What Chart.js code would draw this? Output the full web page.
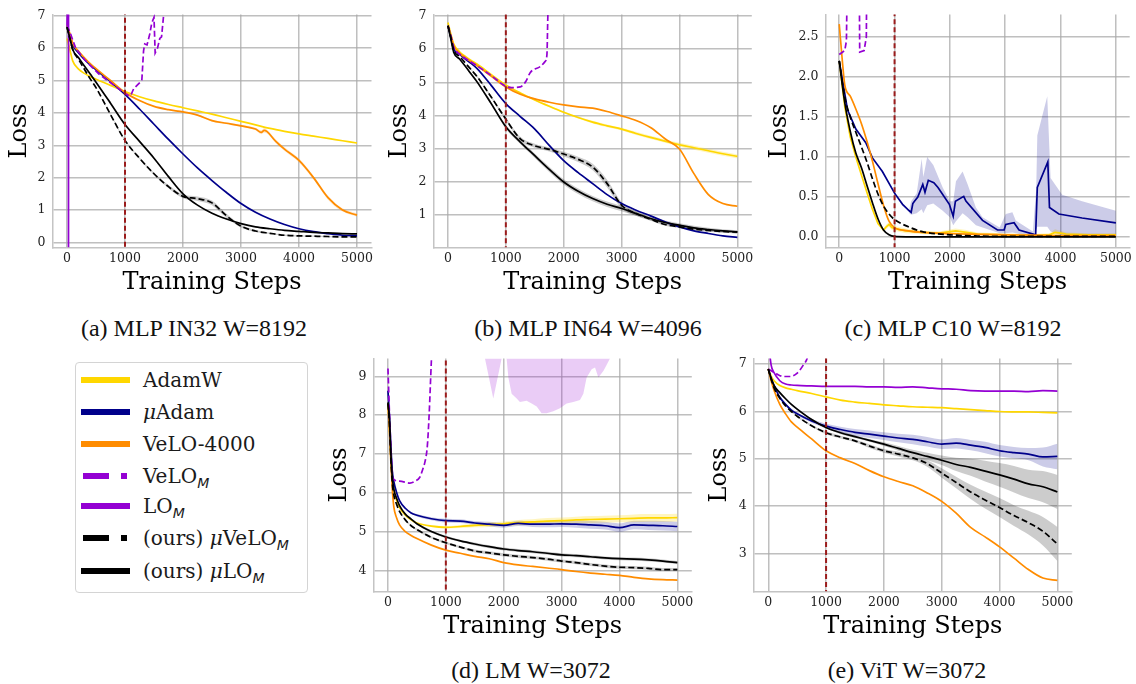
<!DOCTYPE html>
<html>
<head>
<meta charset="utf-8">
<script src="https://cdn.jsdelivr.net/npm/chart.js@4.4.1/dist/chart.umd.min.js"></script>
<style>
  body { margin: 0; background: #fff; width: 1136px; height: 684px; position: relative; overflow: hidden; }
  canvas { position: absolute; }
  .caption { position: absolute; font-family: "Liberation Serif", serif; font-size: 24px; line-height: 26px;
             color: #111; transform: translateX(-50%); white-space: nowrap; }
  #legend { position: absolute; left: 75px; top: 362px; width: 231px; height: 229px; border: 1px solid #d4d4d4;
            border-radius: 4px; background: #fff; font-family: "DejaVu Serif", serif; font-size: 20px; color: #1a1a1a; }
  #legend .item { position: absolute; left: 0; height: 26px; line-height: 26px; white-space: nowrap; }
  #legend svg { position: absolute; left: 4px; top: 7px; }
  #legend span.lbl { position: absolute; left: 67px; top: 0; }
  .sub { font-family: "DejaVu Sans", sans-serif; font-style: italic; font-size: 14px; position: relative; top: 5px; }
  .mu { font-style: italic; }
</style>
</head>
<body>
<canvas id="chartA" width="380" height="300" style="left:0;top:0"></canvas>
<canvas id="chartB" width="380" height="300" style="left:380px;top:0"></canvas>
<canvas id="chartC" width="376" height="300" style="left:760px;top:0"></canvas>
<canvas id="chartD" width="380" height="300" style="left:320px;top:344px"></canvas>
<canvas id="chartE" width="380" height="300" style="left:700px;top:344px"></canvas>

<div class="caption" style="left:194px;top:315px">(a) MLP IN32 W=8192</div>
<div class="caption" style="left:588px;top:315px">(b) MLP IN64 W=4096</div>
<div class="caption" style="left:953px;top:315px">(c) MLP C10 W=8192</div>
<div class="caption" style="left:531px;top:657px">(d) LM W=3072</div>
<div class="caption" style="left:907px;top:657px">(e) ViT W=3072</div>

<div id="legend">
  <div class="item" style="top:4px"><svg width="52" height="12"><line x1="1" y1="6" x2="50" y2="6" stroke="#FFD700" stroke-width="6"/></svg><span class="lbl">AdamW</span></div>
  <div class="item" style="top:35.7px"><svg width="52" height="12"><line x1="1" y1="6" x2="50" y2="6" stroke="#00008B" stroke-width="6"/></svg><span class="lbl"><span class="mu">μ</span>Adam</span></div>
  <div class="item" style="top:68.3px"><svg width="52" height="12"><line x1="1" y1="6" x2="50" y2="6" stroke="#FF8C00" stroke-width="6"/></svg><span class="lbl">VeLO-4000</span></div>
  <div class="item" style="top:100px"><svg width="52" height="12"><line x1="3" y1="6" x2="47" y2="6" stroke="#9400D3" stroke-width="6" stroke-dasharray="26 12"/></svg><span class="lbl">VeLO<span class="sub">M</span></span></div>
  <div class="item" style="top:130px"><svg width="52" height="12"><line x1="1" y1="6" x2="50" y2="6" stroke="#9400D3" stroke-width="6"/></svg><span class="lbl">LO<span class="sub">M</span></span></div>
  <div class="item" style="top:161.7px"><svg width="52" height="12"><line x1="3" y1="6" x2="47" y2="6" stroke="#000" stroke-width="6" stroke-dasharray="26 12"/></svg><span class="lbl">(ours) <span class="mu">μ</span>VeLO<span class="sub">M</span></span></div>
  <div class="item" style="top:195px"><svg width="52" height="12"><line x1="1" y1="6" x2="50" y2="6" stroke="#000" stroke-width="6"/></svg><span class="lbl">(ours) <span class="mu">μ</span>LO<span class="sub">M</span></span></div>
</div>

<script>
// shared step grid for the smooth curves
const STEPS = [0, 50, 100, 200, 300, 400, 500, 750, 1000, 1250, 1500, 1750, 2000, 2250, 2500, 2750, 3000, 3250, 3500, 3750, 4000, 4250, 4500, 4750, 5000];
const X_TICKS = [0, 1000, 2000, 3000, 4000, 5000];
const REF_STEP = 1000;

// (a) MLP IN32
const adamwA = [6.3, 5.95, 5.6, 5.35, 5.22, 5.12, 5.04, 4.85, 4.66, 4.5, 4.37, 4.26, 4.16, 4.06, 3.96, 3.85, 3.74, 3.63, 3.52, 3.43, 3.35, 3.28, 3.21, 3.14, 3.07];
const muAdamA = [6.7, 6.4, 6.1, 5.85, 5.65, 5.48, 5.33, 4.97, 4.57, 4.12, 3.65, 3.18, 2.73, 2.3, 1.91, 1.54, 1.2, 0.93, 0.72, 0.55, 0.42, 0.33, 0.27, 0.22, 0.2];
const veloStepsA = [0, 50, 100, 200, 300, 400, 500, 750, 1000, 1250, 1500, 1750, 2000, 2250, 2500, 2750, 3000, 3250, 3350, 3400, 3450, 3600, 3750, 4000, 4250, 4500, 4750, 5000];
const veloA = [6.7, 6.45, 6.15, 5.9, 5.7, 5.52, 5.37, 5.0, 4.63, 4.38, 4.2, 4.1, 4.03, 3.93, 3.76, 3.68, 3.6, 3.5, 3.4, 3.46, 3.42, 3.12, 2.88, 2.53, 2.0, 1.38, 1.0, 0.84];
const veloSpreadA = [0, 0, 0, 0, 0, 0, 0, 0, 0, 0, 0, 0, 0, 0.02, 0.03, 0.03, 0.03, 0.04, 0.06, 0.07, 0.06, 0.06, 0.06, 0.06, 0.06, 0.06, 0.05, 0.05];
const velomStepsA = [0, 50, 150, 300, 550, 850, 1050, 1100, 1150, 1290, 1320, 1340, 1380, 1430, 1460, 1500, 1520, 1560, 1600, 1630, 1665, 1700];
const velomA = [6.7, 6.5, 6.0, 5.65, 5.2, 4.8, 4.54, 4.54, 4.75, 5.0, 5.92, 6.13, 6.1, 6.46, 6.77, 6.95, 5.85, 6.0, 6.3, 6.35, 7.0, 7.6];
const lomStepsA = [0, 26, 26];
const lomA = [6.7, 9, -1];
const muVeloA = [6.65, 6.3, 5.95, 5.65, 5.35, 5.05, 4.78, 3.95, 3.15, 2.6, 2.12, 1.72, 1.42, 1.35, 1.22, 0.82, 0.5, 0.35, 0.28, 0.22, 0.2, 0.19, 0.18, 0.17, 0.17];
const muVeloSpreadA = [0, 0, 0, 0, 0, 0, 0, 0.02, 0.03, 0.03, 0.04, 0.05, 0.06, 0.07, 0.07, 0.06, 0.04, 0.03, 0.02, 0.02, 0.02, 0.02, 0.02, 0.02, 0.02];
const muLoA = [6.65, 6.3, 5.95, 5.7, 5.45, 5.2, 4.95, 4.3, 3.64, 3.12, 2.6, 2.03, 1.5, 1.15, 0.9, 0.72, 0.58, 0.48, 0.42, 0.37, 0.34, 0.31, 0.29, 0.27, 0.26];

// (b) MLP IN64
const adamwB = [6.8, 6.45, 6.15, 5.92, 5.78, 5.66, 5.55, 5.23, 4.92, 4.68, 4.47, 4.28, 4.1, 3.94, 3.8, 3.69, 3.59, 3.46, 3.34, 3.23, 3.12, 3.03, 2.94, 2.85, 2.77];
const adamwSpreadB = [0, 0, 0, 0, 0, 0, 0, 0, 0.02, 0.02, 0.02, 0.03, 0.03, 0.03, 0.04, 0.04, 0.04, 0.05, 0.05, 0.05, 0.06, 0.06, 0.06, 0.06, 0.06];
const muAdamB = [6.7, 6.35, 6.0, 5.85, 5.7, 5.57, 5.42, 4.9, 4.36, 3.97, 3.59, 3.1, 2.64, 2.28, 1.95, 1.62, 1.35, 1.15, 0.98, 0.8, 0.65, 0.53, 0.45, 0.38, 0.33];
const veloB = [6.7, 6.4, 6.1, 5.88, 5.74, 5.62, 5.5, 5.18, 4.86, 4.64, 4.5, 4.4, 4.32, 4.26, 4.22, 4.12, 3.99, 3.85, 3.64, 3.3, 2.99, 2.25, 1.62, 1.35, 1.27];
const velomStepsB = [0, 50, 100, 200, 500, 750, 1000, 1100, 1250, 1350, 1420, 1600, 1680, 1710, 1726, 1740];
const velomB = [6.7, 6.4, 6.05, 5.85, 5.5, 5.2, 4.88, 4.84, 4.86, 5.04, 5.29, 5.48, 5.63, 5.83, 7.0, 7.6];
const muVeloB = [6.7, 6.35, 5.97, 5.78, 5.58, 5.38, 5.18, 4.55, 3.89, 3.3, 3.09, 2.98, 2.84, 2.68, 2.45, 1.95, 1.3, 1.05, 0.88, 0.72, 0.65, 0.58, 0.54, 0.51, 0.49];
const muVeloSpreadB = [0, 0, 0, 0, 0, 0.02, 0.03, 0.04, 0.05, 0.06, 0.06, 0.06, 0.07, 0.08, 0.1, 0.12, 0.1, 0.07, 0.05, 0.04, 0.04, 0.04, 0.04, 0.04, 0.04];
const muLoB = [6.7, 6.3, 5.9, 5.7, 5.48, 5.25, 5.02, 4.35, 3.66, 3.2, 2.79, 2.38, 2.0, 1.72, 1.5, 1.33, 1.2, 1.05, 0.9, 0.78, 0.7, 0.62, 0.57, 0.53, 0.5];
const muLoSpreadB = [0, 0, 0, 0, 0.02, 0.03, 0.04, 0.05, 0.06, 0.06, 0.07, 0.08, 0.08, 0.08, 0.08, 0.08, 0.08, 0.07, 0.06, 0.06, 0.06, 0.06, 0.05, 0.05, 0.05];

// (c) MLP C10
const STEPS_C = [0, 100, 200, 300, 400, 500, 600, 700, 800, 900, 1000, 1250, 1500, 2000, 2500, 3000, 3500, 4000, 4500, 5000];
const adamwStepsC = [0, 100, 200, 300, 400, 500, 600, 700, 800, 850, 900, 950, 1000, 1200, 1500, 1800, 2100, 2200, 2300, 2500, 3000, 3500, 3800, 3900, 4000, 4100, 4500, 5000];
const adamwC = [2.2, 1.63, 1.25, 1.0, 0.78, 0.56, 0.35, 0.17, 0.09, 0.13, 0.16, 0.12, 0.11, 0.08, 0.06, 0.05, 0.08, 0.07, 0.06, 0.04, 0.03, 0.02, 0.03, 0.06, 0.05, 0.04, 0.03, 0.03];
const adamwSpreadC = [0, 0, 0, 0, 0, 0, 0, 0, 0.02, 0.03, 0.03, 0.03, 0.03, 0.03, 0.02, 0.02, 0.03, 0.03, 0.03, 0.02, 0.02, 0.02, 0.02, 0.04, 0.03, 0.02, 0.02, 0.02];
const muAdamStepsC = [0, 150, 300, 480, 600, 780, 1000, 1145, 1265, 1300, 1330, 1360, 1420, 1510, 1550, 1610, 1710, 1785, 1990, 2060, 2100, 2250, 2290, 2590, 2860, 2980, 3010, 3160, 3250, 3550, 3580, 3770, 3800, 3970, 4390, 5000];
const muAdamC = [2.2, 1.59, 1.35, 1.18, 0.99, 0.82, 0.55, 0.41, 0.33, 0.31, 0.42, 0.45, 0.5, 0.66, 0.56, 0.71, 0.68, 0.62, 0.41, 0.26, 0.45, 0.51, 0.45, 0.21, 0.09, 0.09, 0.16, 0.18, 0.09, 0.03, 0.62, 0.94, 0.37, 0.29, 0.24, 0.18];
const muAdamBandStepsC = [1265, 1300, 1400, 1490, 1520, 1590, 1700, 1870, 2000, 2060, 2110, 2230, 2320, 2470, 2590, 2900, 3010, 3130, 3190, 3500, 3560, 3580, 3760, 3820, 4030, 4390, 5000];
const muAdamHiC = [0.35, 0.45, 0.55, 0.98, 0.75, 1.0, 0.9, 0.62, 0.45, 0.45, 0.7, 0.82, 0.66, 0.37, 0.25, 0.12, 0.29, 0.31, 0.21, 0.07, 0.6, 1.27, 1.76, 0.74, 0.53, 0.45, 0.33];
const muAdamLoC = [0.3, 0.28, 0.3, 0.35, 0.3, 0.4, 0.42, 0.33, 0.25, 0.15, 0.2, 0.3, 0.25, 0.15, 0.12, 0.05, 0.05, 0.06, 0.05, 0.01, 0.1, 0.13, 0.13, 0.07, 0.02, 0.01, 0.01];
const veloStepsC = [0, 50, 100, 200, 300, 400, 500, 600, 700, 800, 900, 1000, 1250, 1500, 2000, 2500, 3000, 3500, 4000, 4500, 5000];
const veloC = [2.66, 2.25, 1.9, 1.76, 1.6, 1.42, 1.2, 0.95, 0.67, 0.4, 0.2, 0.12, 0.08, 0.06, 0.045, 0.035, 0.03, 0.025, 0.02, 0.02, 0.02];
const velomStepsC = [0, 100, 130, 150, 360, 370, 450, 490, 500];
const velomC = [2.28, 2.33, 2.45, 3.5, 3.5, 2.31, 2.33, 2.5, 3.5];
const muVeloC = [2.2, 1.75, 1.5, 1.31, 1.13, 0.94, 0.73, 0.54, 0.39, 0.29, 0.22, 0.13, 0.07, 0.03, 0.015, 0.01, 0.01, 0.01, 0.01, 0.01];
const muLoC = [2.2, 1.68, 1.32, 1.05, 0.87, 0.65, 0.43, 0.23, 0.09, 0.03, 0.01, 0.005, 0.004, 0.003, 0.003, 0.003, 0.003, 0.003, 0.003, 0.003];

// (d) LM
const STEPS_D = [0, 25, 50, 75, 100, 150, 200, 300, 400, 500, 750, 1000, 1250, 1500, 1750, 2000, 2250, 2500, 2750, 3000, 3250, 3500, 3750, 4000, 4250, 4500, 4750, 5000];
const adamwD = [8.3, 7.7, 6.9, 6.35, 6.1, 5.8, 5.62, 5.42, 5.3, 5.22, 5.14, 5.11, 5.13, 5.16, 5.18, 5.2, 5.23, 5.25, 5.27, 5.28, 5.3, 5.31, 5.32, 5.33, 5.34, 5.35, 5.35, 5.36];
const adamwSpreadD = [0, 0, 0, 0, 0, 0, 0, 0, 0, 0, 0.02, 0.03, 0.04, 0.05, 0.06, 0.06, 0.07, 0.07, 0.08, 0.08, 0.08, 0.09, 0.09, 0.09, 0.1, 0.1, 0.1, 0.1];
const muAdamD = [8.63, 8.0, 7.2, 6.55, 6.3, 6.0, 5.8, 5.6, 5.48, 5.42, 5.33, 5.28, 5.27, 5.22, 5.19, 5.16, 5.21, 5.19, 5.19, 5.2, 5.19, 5.17, 5.15, 5.1, 5.17, 5.16, 5.15, 5.13];
const muAdamSpreadD = [0, 0, 0, 0, 0, 0, 0, 0, 0.02, 0.03, 0.04, 0.05, 0.05, 0.05, 0.06, 0.06, 0.07, 0.07, 0.08, 0.08, 0.09, 0.1, 0.1, 0.11, 0.11, 0.12, 0.12, 0.12];
const veloD = [8.3, 7.6, 6.8, 6.1, 5.65, 5.35, 5.17, 5.0, 4.9, 4.82, 4.65, 4.52, 4.44, 4.36, 4.3, 4.2, 4.14, 4.1, 4.06, 4.02, 3.97, 3.93, 3.9, 3.87, 3.82, 3.78, 3.76, 3.75];
const velomStepsD = [0, 40, 90, 200, 380, 470, 550, 600, 640, 680, 711, 750, 770];
const velomD = [9.2, 7.5, 6.35, 6.3, 6.25, 6.3, 6.4, 6.6, 6.8, 7.2, 8.0, 9.4, 10];
const lomBandStepsD = [1600, 1676, 1820, 1964, 2000, 2040, 2050, 2080, 2137, 2224, 2280, 2396, 2483, 2570, 2655, 2742, 2857, 2972, 3088, 3203, 3318, 3376, 3433, 3520, 3578, 3635, 3722, 3780, 3836, 3900];
const lomLoD = [11, 9.46, 8.43, 9.46, 11, 11, 9.46, 8.97, 8.55, 8.43, 8.34, 8.37, 8.3, 8.22, 8.05, 8.05, 8.1, 8.18, 8.3, 8.34, 8.39, 8.55, 8.97, 9.18, 9.23, 8.97, 9.14, 9.3, 9.46, 11];
const lomHiD = [12, 12, 12, 12, 12, 12, 12, 12, 12, 12, 12, 12, 12, 12, 12, 12, 12, 12, 12, 12, 12, 12, 12, 12, 12, 12, 12, 12, 12, 12];
const muVeloD = [8.3, 7.8, 6.9, 6.25, 5.95, 5.7, 5.52, 5.3, 5.15, 5.05, 4.85, 4.71, 4.6, 4.5, 4.45, 4.4, 4.36, 4.33, 4.29, 4.24, 4.2, 4.15, 4.11, 4.08, 4.07, 4.05, 4.02, 4.02];
const muLoD = [8.33, 7.9, 7.0, 6.4, 6.1, 5.85, 5.67, 5.45, 5.32, 5.2, 5.0, 4.86, 4.76, 4.68, 4.61, 4.55, 4.51, 4.48, 4.44, 4.4, 4.38, 4.35, 4.32, 4.3, 4.29, 4.27, 4.24, 4.2];
const blackSpreadD = [0, 0, 0, 0, 0, 0, 0, 0.02, 0.02, 0.03, 0.03, 0.03, 0.03, 0.04, 0.04, 0.04, 0.04, 0.04, 0.04, 0.04, 0.04, 0.04, 0.04, 0.04, 0.04, 0.04, 0.04, 0.04];

// (e) ViT
const adamwE = [6.9, 6.75, 6.65, 6.55, 6.5, 6.47, 6.44, 6.38, 6.31, 6.24, 6.2, 6.17, 6.14, 6.12, 6.1, 6.09, 6.08, 6.06, 6.04, 6.02, 6.0, 5.99, 5.99, 5.98, 5.97];
const muAdamE = [6.9, 6.7, 6.55, 6.3, 6.15, 6.03, 5.95, 5.8, 5.69, 5.62, 5.56, 5.52, 5.48, 5.44, 5.41, 5.36, 5.31, 5.33, 5.29, 5.24, 5.17, 5.13, 5.1, 5.04, 5.05];
const muAdamSpreadE = [0, 0, 0.01, 0.02, 0.02, 0.03, 0.03, 0.04, 0.05, 0.06, 0.07, 0.08, 0.08, 0.09, 0.1, 0.1, 0.1, 0.11, 0.11, 0.12, 0.12, 0.12, 0.13, 0.2, 0.27];
const veloE = [6.9, 6.65, 6.45, 6.15, 5.95, 5.78, 5.67, 5.42, 5.17, 5.02, 4.9, 4.75, 4.62, 4.52, 4.43, 4.28, 4.1, 3.85, 3.55, 3.35, 3.14, 2.9, 2.66, 2.48, 2.43];
const velomStepsE = [0, 150, 260, 380, 490, 600, 680, 720];
const velomE = [6.9, 6.79, 6.74, 6.74, 6.8, 6.97, 7.15, 7.4];
const lomE = [7.5, 6.98, 6.82, 6.65, 6.58, 6.56, 6.55, 6.54, 6.53, 6.53, 6.53, 6.52, 6.52, 6.51, 6.52, 6.5, 6.48, 6.47, 6.44, 6.43, 6.43, 6.43, 6.42, 6.44, 6.43];
const muVeloE = [6.9, 6.68, 6.5, 6.28, 6.12, 6.0, 5.9, 5.7, 5.55, 5.46, 5.38, 5.27, 5.17, 5.1, 5.02, 4.9, 4.7, 4.5, 4.3, 4.13, 3.97, 3.8, 3.65, 3.47, 3.2];
const muVeloSpreadE = [0, 0, 0, 0.01, 0.01, 0.01, 0.02, 0.02, 0.03, 0.03, 0.03, 0.04, 0.04, 0.05, 0.05, 0.07, 0.1, 0.12, 0.15, 0.18, 0.2, 0.22, 0.25, 0.3, 0.36];
const muLoE = [6.9, 6.7, 6.55, 6.4, 6.27, 6.15, 6.05, 5.83, 5.66, 5.55, 5.47, 5.39, 5.31, 5.22, 5.13, 5.05, 4.97, 4.88, 4.82, 4.74, 4.66, 4.57, 4.47, 4.41, 4.3];
const muLoSpreadE = [0, 0, 0, 0.01, 0.01, 0.01, 0.02, 0.02, 0.02, 0.03, 0.03, 0.03, 0.04, 0.05, 0.06, 0.08, 0.1, 0.14, 0.18, 0.22, 0.25, 0.28, 0.3, 0.33, 0.36];

const COLORS = {
  adamw: '#FFD700', muadam: '#00008B', velo: '#FF8C00', velom: '#9400D3',
  lom: '#9400D3', muvelom: '#000000', mulom: '#000000'
};
const BAND_COLORS = {
  adamw: 'rgba(255,215,0,0.25)', muadam: 'rgba(0,0,139,0.2)', velo: 'rgba(255,140,0,0.2)',
  lom: 'rgba(148,0,211,0.2)', muvelom: 'rgba(0,0,0,0.2)', mulom: 'rgba(0,0,0,0.2)'
};
const DRAW_RANK = ['adamw', 'muadam', 'velo', 'velom', 'lom', 'muvelom', 'mulom'];
const DASHED = ['velom', 'muvelom'];
const GRID = 'rgba(170,170,170,0.75)';
const TICK_FONT = { family: 'DejaVu Serif', size: 12.5 };
const TITLE_FONT = { family: 'DejaVu Serif', size: 24 };

const pts = (xs, ys) => xs.map((x, i) => ({ x, y: ys[i] }));

function lineSet(key, xs, ys, smooth = true) {
  return {
    data: pts(xs, ys),
    borderColor: COLORS[key],
    borderWidth: 1.7,
    borderDash: DASHED.includes(key) ? [6, 3] : [],
    pointRadius: 0,
    fill: false,
    tension: 0,
    cubicInterpolationMode: smooth ? 'monotone' : 'default',
    order: 20 - DRAW_RANK.indexOf(key)
  };
}

// two datasets, the upper one filled down to the lower one
function bandSets(key, xs, lo, hi, smooth = true) {
  const base = { borderWidth: 0, pointRadius: 0, tension: 0,
                 cubicInterpolationMode: smooth ? 'monotone' : 'default', order: 40 };
  return [
    Object.assign({ data: pts(xs, hi), backgroundColor: BAND_COLORS[key], fill: '+1' }, base),
    Object.assign({ data: pts(xs, lo), fill: false }, base)
  ];
}

function spreadBand(key, xs, ys, spread, smooth = true) {
  return bandSets(key, xs, ys.map((v, i) => v - spread[i]), ys.map((v, i) => v + spread[i]), smooth);
}

function refLine() {
  return {
    data: [{ x: REF_STEP, y: -100 }, { x: REF_STEP, y: 100 }],
    borderColor: '#9b1c1c', borderWidth: 2, borderDash: [5, 3],
    pointRadius: 0, fill: false, order: 1
  };
}

function makeChart(id, cfg) {
  new Chart(document.getElementById(id), {
    type: 'line',
    data: { datasets: cfg.datasets.concat([refLine()]) },
    options: {
      responsive: false,
      animation: false,
      events: [],
      layout: { padding: { top: cfg.top, right: cfg.right, left: 0, bottom: 0 } },
      plugins: { legend: { display: false }, tooltip: { enabled: false } },
      scales: {
        x: {
          type: 'linear', min: -250, max: 5250,
          afterBuildTicks: s => { s.ticks = X_TICKS.map(v => ({ value: v })); },
          afterFit: s => { s.height = 52.7; },
          grid: { color: GRID, lineWidth: 1.5, drawTicks: false },
          border: { color: '#c4c4c4', width: 1.5 },
          ticks: { font: TICK_FONT, color: '#222', padding: 4, maxRotation: 0, autoSkip: false,
                   callback: v => String(v) },
          title: { display: true, text: 'Training Steps', font: TITLE_FONT, color: '#000', padding: { top: 0, bottom: 3 } }
        },
        y: {
          type: 'linear', min: cfg.yMin, max: cfg.yMax,
          afterBuildTicks: s => { s.ticks = cfg.yTicks.map(v => ({ value: v })); },
          afterFit: s => { s.width = cfg.yAxisW; },
          grid: { color: GRID, lineWidth: 1.5, drawTicks: false },
          border: { color: '#c4c4c4', width: 1.5 },
          ticks: { font: TICK_FONT, color: '#222', padding: 7,
                   callback: v => cfg.decimals ? v.toFixed(1) : String(v) },
          title: { display: true, text: 'Loss', font: TITLE_FONT, color: '#000', padding: { top: 5, bottom: 0 } }
        }
      }
    }
  });
}

makeChart('chartA', {
  top: 13, right: 8.5, yAxisW: 52.5, yMin: -0.153, yMax: 7.04, yTicks: [0, 1, 2, 3, 4, 5, 6, 7],
  datasets: [
    ...spreadBand('velo', veloStepsA, veloA, veloSpreadA),
    ...spreadBand('muvelom', STEPS, muVeloA, muVeloSpreadA),
    lineSet('adamw', STEPS, adamwA),
    lineSet('muadam', STEPS, muAdamA),
    lineSet('velo', veloStepsA, veloA),
    lineSet('velom', velomStepsA, velomA, false),
    lineSet('lom', lomStepsA, lomA, false),
    lineSet('muvelom', STEPS, muVeloA),
    lineSet('mulom', STEPS, muLoA)
  ]
});

makeChart('chartB', {
  top: 13, right: 8.2, yAxisW: 53.5, yMin: 0.034, yMax: 7.04, yTicks: [1, 2, 3, 4, 5, 6, 7],
  datasets: [
    ...spreadBand('adamw', STEPS, adamwB, adamwSpreadB),
    ...spreadBand('muvelom', STEPS, muVeloB, muVeloSpreadB),
    ...spreadBand('mulom', STEPS, muLoB, muLoSpreadB),
    lineSet('adamw', STEPS, adamwB),
    lineSet('muadam', STEPS, muAdamB),
    lineSet('velo', STEPS, veloB),
    lineSet('velom', velomStepsB, velomB),
    lineSet('muvelom', STEPS, muVeloB),
    lineSet('mulom', STEPS, muLoB)
  ]
});

makeChart('chartC', {
  top: 10, right: 5, yAxisW: 65.4, yMin: -0.126, yMax: 2.78, yTicks: [0, 0.5, 1, 1.5, 2, 2.5], decimals: true,
  datasets: [
    ...bandSets('muadam', muAdamBandStepsC, muAdamLoC, muAdamHiC, false),
    ...spreadBand('adamw', adamwStepsC, adamwC, adamwSpreadC, false),
    lineSet('adamw', adamwStepsC, adamwC, false),
    lineSet('muadam', muAdamStepsC, muAdamC, false),
    lineSet('velo', veloStepsC, veloC),
    lineSet('velom', velomStepsC, velomC, false),
    lineSet('muvelom', STEPS_C, muVeloC),
    lineSet('mulom', STEPS_C, muLoC)
  ]
});

makeChart('chartD', {
  top: 10, right: 8.2, yAxisW: 53.5, yMin: 3.46, yMax: 9.46, yTicks: [4, 5, 6, 7, 8, 9],
  datasets: [
    ...bandSets('lom', lomBandStepsD, lomLoD, lomHiD, false),
    ...spreadBand('adamw', STEPS_D, adamwD, adamwSpreadD),
    ...spreadBand('muadam', STEPS_D, muAdamD, muAdamSpreadD),
    ...spreadBand('muvelom', STEPS_D, muVeloD, blackSpreadD),
    ...spreadBand('mulom', STEPS_D, muLoD, blackSpreadD),
    lineSet('adamw', STEPS_D, adamwD),
    lineSet('muadam', STEPS_D, muAdamD),
    lineSet('velo', STEPS_D, veloD),
    lineSet('velom', velomStepsD, velomD),
    lineSet('muvelom', STEPS_D, muVeloD),
    lineSet('mulom', STEPS_D, muLoD)
  ]
});

makeChart('chartE', {
  top: 10, right: 8.2, yAxisW: 53.8, yMin: 2.2, yMax: 7.12, yTicks: [3, 4, 5, 6, 7],
  datasets: [
    ...spreadBand('muadam', STEPS, muAdamE, muAdamSpreadE),
    ...spreadBand('muvelom', STEPS, muVeloE, muVeloSpreadE),
    ...spreadBand('mulom', STEPS, muLoE, muLoSpreadE),
    lineSet('adamw', STEPS, adamwE),
    lineSet('muadam', STEPS, muAdamE),
    lineSet('velo', STEPS, veloE),
    lineSet('velom', velomStepsE, velomE),
    lineSet('lom', STEPS, lomE),
    lineSet('muvelom', STEPS, muVeloE),
    lineSet('mulom', STEPS, muLoE)
  ]
});
</script>
</body>
</html>
